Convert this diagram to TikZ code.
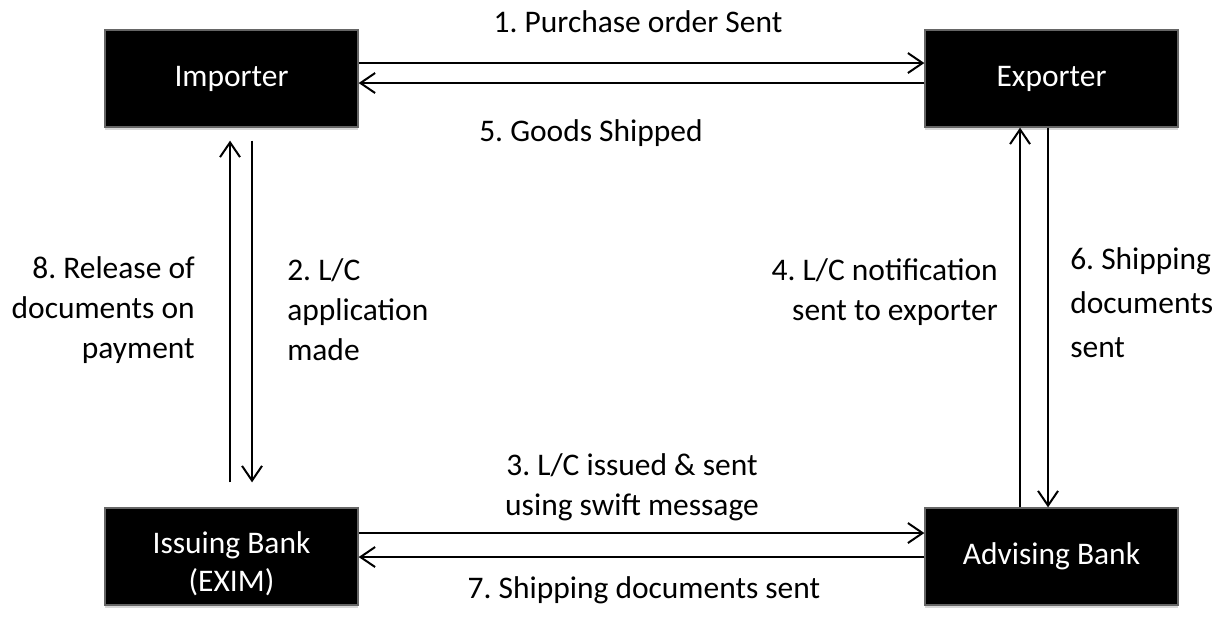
\documentclass[tikz,border=0pt]{standalone}
\usepackage{fontspec}
\setmainfont{Carlito}
\frenchspacing
\usetikzlibrary{arrows.meta, shadows}
\tikzstyle{party} = [rectangle, minimum width=189.75pt, minimum height=72.75pt, inner sep=0pt, align=center, draw=black!60, line width=1pt, fill=black, text=white, font=\fontsize{23.6}{28.5}\selectfont, drop shadow={shadow xshift=0pt, shadow yshift=-2.5pt, opacity=0.3}]
\tikzstyle{note} = [inner sep=0pt, font=\fontsize{23.6}{30}\selectfont]
\tikzstyle{arrow} = [line width=1.5pt, -{Straight Barb[length=11pt, width=15pt]}]

\begin{document}
\begin{tikzpicture}[x=0.75pt, y=-0.75pt]
\useasboundingbox (0,0) rectangle (1220,617);
\node (imp) [party] at (231.5,78.5) {Importer};
\node (exp) [party] at (1051.5,78.5) {Exporter};
\node (iss) [party] at (231.5,556.5) {\rule{0pt}{28pt}Issuing Bank\\(EXIM)};
\node (adv) [party] at (1051.5,556.5) {Advising Bank};

\draw [arrow] ([yshift=11.6pt]imp.east) -- ([yshift=11.6pt]exp.west);
\draw [arrow] ([yshift=-3.4pt]exp.west) -- ([yshift=-3.4pt]imp.east);
\draw [arrow] ([yshift=17.6pt]iss.east) -- ([yshift=17.6pt]adv.west);
\draw [arrow] ([yshift=-0.4pt]adv.west) -- ([yshift=-0.4pt]iss.east);
\draw [arrow, shorten <=9.75pt, shorten >=18.75pt] ([xshift=15.4pt]imp.south) -- ([xshift=15.4pt]iss.north);
\draw [arrow, shorten <=18.75pt, shorten >=9.75pt] ([xshift=-1.1pt]iss.north) -- ([xshift=-1.1pt]imp.south);
\draw [arrow] ([xshift=-23.6pt]adv.north) -- ([xshift=-23.6pt]exp.south);
\draw [arrow] ([xshift=-2.6pt]exp.south) -- ([xshift=-2.6pt]adv.north);

\node (po) [note, anchor=base] at (638,33) {1. Purchase order Sent};
\node (gs) [note] at (591,133) {5. Goods Shipped};
\node (lca) [note, anchor=west, align=left] at (287,310) {2. L/C\\application\\made};
\node (rel) [note, anchor=east, align=right] at (195,310) {8. Release of\\documents on\\payment};
\node (not) [note, anchor=east, align=right] at (998,292) {4. L/C notification\\sent to exporter};
\node (shp) [note, anchor=west, align=left, font=\fontsize{23.6}{33}\selectfont] at (1070,303) {6. Shipping\\documents\\sent};
\node (swf) [note, align=center] at (632,487) {3. L/C issued \& sent\\using swift message};
\node (doc) [note] at (644,590) {7. Shipping documents sent};
\end{tikzpicture}
\end{document}
